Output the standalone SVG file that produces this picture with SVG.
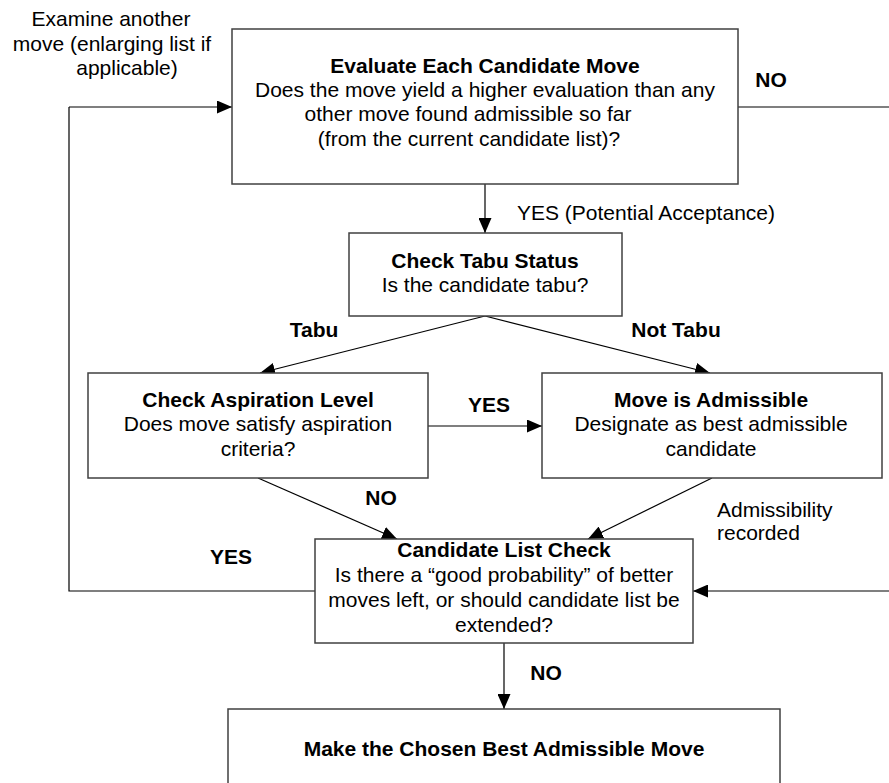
<svg xmlns="http://www.w3.org/2000/svg" width="889" height="783" viewBox="0 0 889 783">
  <style>
    .box { fill: #ffffff; stroke: #404040; stroke-width: 1.5; }
    .wire { fill: none; stroke: #000000; stroke-width: 1.2; }
    .arrow { marker-end: url(#head); }
    text { font-family: "Liberation Sans", Arial, sans-serif; font-size: 21px; fill: #000000; }
    .b { font-weight: bold; }
    .m { text-anchor: middle; }
  </style>
  <defs>
    <marker id="head" markerUnits="userSpaceOnUse" markerWidth="15" markerHeight="13" refX="15" refY="6.5" orient="auto">
      <path d="M0,0 L15,6.5 L0,13 Z" fill="#000000"/>
    </marker>
  </defs>

  <rect width="889" height="783" fill="#ffffff"/>

  <!-- connectors -->
  <g id="connectors">
    <!-- back to evaluation (left loop) -->
    <polyline class="wire" points="315,591 69,591 69,107"/>
    <line class="wire arrow" x1="69" y1="107" x2="232" y2="107"/>
    <!-- NO from evaluation, returning to candidate list check -->
    <line class="wire" x1="738" y1="107" x2="889" y2="107"/>
    <line class="wire arrow" x1="889" y1="591" x2="693" y2="591"/>
    <!-- YES to tabu check -->
    <line class="wire arrow" x1="485" y1="184" x2="485" y2="233"/>
    <!-- Tabu / Not Tabu -->
    <line class="wire arrow" x1="485" y1="316" x2="260" y2="373"/>
    <line class="wire arrow" x1="485" y1="316" x2="710" y2="373"/>
    <!-- aspiration satisfied -->
    <line class="wire arrow" x1="428" y1="426" x2="542" y2="426"/>
    <!-- to candidate list check -->
    <line class="wire arrow" x1="258" y1="478" x2="397" y2="539"/>
    <line class="wire arrow" x1="712" y1="478" x2="588" y2="539"/>
    <!-- NO to final move -->
    <line class="wire arrow" x1="504" y1="643" x2="504" y2="709"/>
  </g>

  <!-- connector labels -->
  <g id="labels">
    <text class="m" x="111" y="26">Examine another</text>
    <text class="m" x="112" y="51">move (enlarging list if</text>
    <text class="m" x="127" y="75">applicable)</text>
    <text class="b m" x="771" y="87">NO</text>
    <text x="517" y="220">YES (Potential Acceptance)</text>
    <text class="b m" x="314" y="337">Tabu</text>
    <text class="b m" x="676" y="337">Not Tabu</text>
    <text class="b m" x="489" y="412">YES</text>
    <text class="b m" x="381" y="505">NO</text>
    <text class="b m" x="231" y="564">YES</text>
    <text x="717" y="517">Admissibility</text>
    <text x="717" y="540">recorded</text>
    <text class="b m" x="546" y="680">NO</text>
  </g>

  <!-- nodes -->
  <g id="evaluate">
    <rect class="box" x="232" y="29" width="506" height="155"/>
    <text class="b m" x="485" y="73">Evaluate Each Candidate Move</text>
    <text class="m" x="485" y="97">Does the move yield a higher evaluation than any</text>
    <text class="m" x="468" y="121">other move found admissible so far</text>
    <text class="m" x="469" y="146">(from the current candidate list)?</text>
  </g>

  <g id="tabu-status">
    <rect class="box" x="349" y="233" width="273" height="83"/>
    <text class="b m" x="485" y="268">Check Tabu Status</text>
    <text class="m" x="485" y="292">Is the candidate tabu?</text>
  </g>

  <g id="aspiration">
    <rect class="box" x="88" y="373" width="340" height="105"/>
    <text class="b m" x="258" y="407">Check Aspiration Level</text>
    <text class="m" x="258" y="431">Does move satisfy aspiration</text>
    <text class="m" x="258" y="456">criteria?</text>
  </g>

  <g id="admissible">
    <rect class="box" x="542" y="373" width="340" height="105"/>
    <text class="b m" x="711" y="407">Move is Admissible</text>
    <text class="m" x="711" y="431">Designate as best admissible</text>
    <text class="m" x="711" y="456">candidate</text>
  </g>

  <g id="candidate-list">
    <rect class="box" x="315" y="539" width="378" height="104"/>
    <text class="b m" x="504" y="557">Candidate List Check</text>
    <text class="m" x="504" y="582">Is there a “good probability” of better</text>
    <text class="m" x="504" y="607">moves left, or should candidate list be</text>
    <text class="m" x="504" y="632">extended?</text>
  </g>

  <g id="make-move">
    <rect class="box" x="228" y="709" width="552" height="90"/>
    <text class="b m" x="504" y="756">Make the Chosen Best Admissible Move</text>
  </g>
</svg>
